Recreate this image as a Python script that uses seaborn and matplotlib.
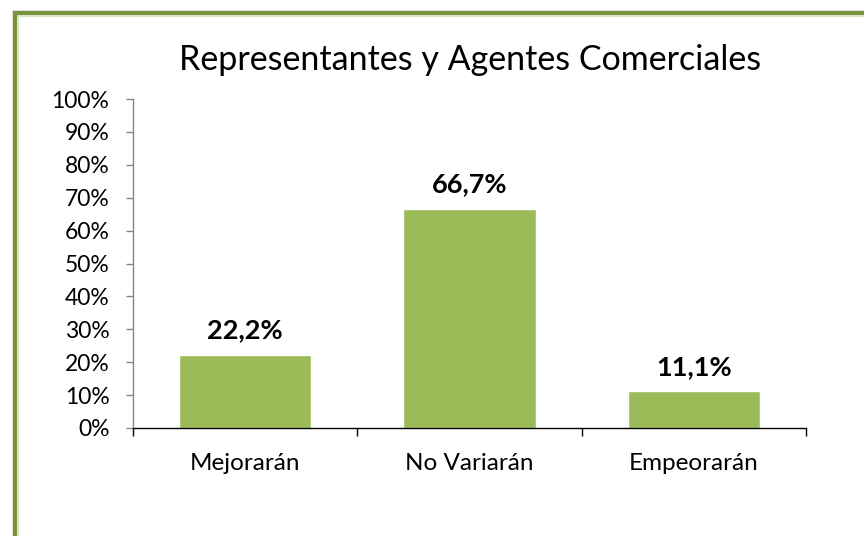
import matplotlib
matplotlib.use('Agg')
import matplotlib.pyplot as plt
from matplotlib.patches import Rectangle
import seaborn as sns
import pandas as pd

# Chart data
categories = ['Mejorarán', 'No Variarán', 'Empeorarán']
values = [22.2, 66.7, 11.1]
value_labels = ['22,2%', '66,7%', '11,1%']
y_ticks = [0, 10, 20, 30, 40, 50, 60, 70, 80, 90, 100]
y_tick_labels = [f'{t}%' for t in y_ticks]

df = pd.DataFrame({'categoria': categories, 'valor': values})

sns.set_style('white')
plt.rcParams['font.family'] = ['Lato', 'DejaVu Sans']
plt.rcParams['text.color'] = 'black'
plt.rcParams['xtick.color'] = 'black'
plt.rcParams['ytick.color'] = 'black'

fig = plt.figure(figsize=(8.64, 5.36), dpi=100)
ax = fig.add_axes([133 / 864, 1 - 428 / 536, (806 - 133) / 864, (428 - 99) / 536])

sns.barplot(data=df, x='categoria', y='valor', color='#9BBB59', width=0.59,
            saturation=1, ax=ax)

# value labels above the bars
for i, (v, lab) in enumerate(zip(values, value_labels)):
    ax.annotate(lab, (i, v), xytext=(0, 9), textcoords='offset points',
                ha='center', va='bottom', fontsize=19.5, fontweight='bold', color='black')

ax.set_ylim(0, 100)
ax.set_xlim(-0.5, 2.5)
ax.set_yticks(y_ticks)
ax.set_yticklabels(y_tick_labels, fontsize=16.5)
ax.tick_params(axis='y', length=5, width=1, color='#868686', pad=12, left=True)
ax.set_xticks(range(len(categories)))
ax.set_xticklabels(categories, fontsize=17.5)
ax.set_xticks([-0.5, 0.5, 1.5, 2.5], minor=True)
ax.tick_params(axis='x', which='major', length=0, pad=18)
ax.tick_params(axis='x', which='minor', length=6, width=1, color='black', bottom=True)
ax.set_xlabel('')
ax.set_ylabel('')

for s in ['top', 'right']:
    ax.spines[s].set_visible(False)
ax.spines['left'].set_color('#868686')
ax.spines['bottom'].set_color('black')
ax.spines['left'].set_linewidth(1)
ax.spines['bottom'].set_linewidth(1)

fig.text(470 / 864, 1 - 60 / 536, 'Representantes y Agentes Comerciales',
         ha='center', va='center', fontsize=24.5, color='black')

# outer green frame (left and top edges visible)
fig.patches.append(Rectangle((15 / 864, -0.2), 1.2, 1.2 - 13 / 536,
                             transform=fig.transFigure, fill=False,
                             edgecolor='#77933C', linewidth=3.2, zorder=5))
fig.patches.append(Rectangle((18 / 864, -0.2), 1.2, 1.2 - 16 / 536,
                             transform=fig.transFigure, fill=False,
                             edgecolor='#D7E4BD', linewidth=0.8, zorder=5))

fig.savefig('out.png', dpi=100)
